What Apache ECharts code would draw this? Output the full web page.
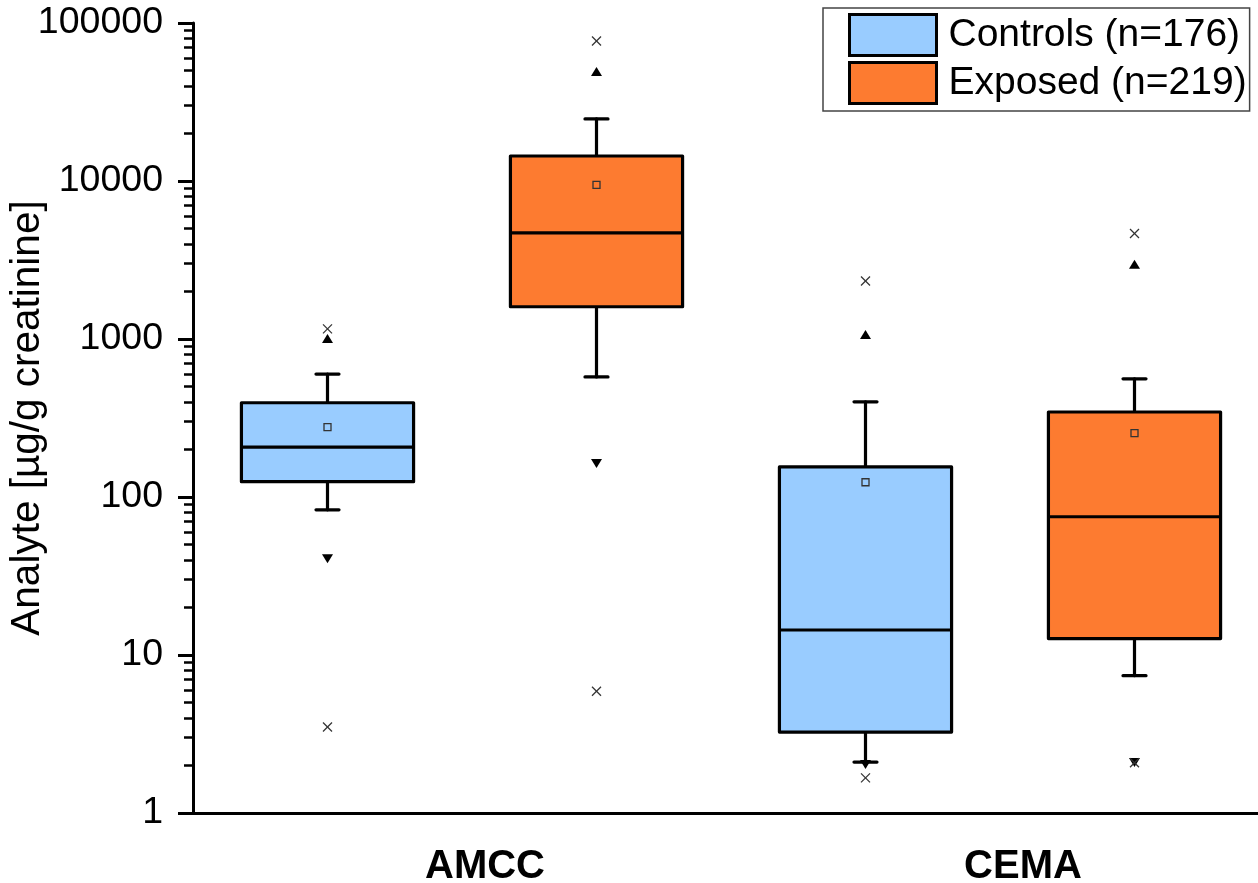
<!DOCTYPE html>
<html>
<head>
<meta charset="utf-8">
<title>Analyte by group</title>
<script src="https://cdn.jsdelivr.net/npm/echarts@6/dist/echarts.min.js"></script>
<style>
  html, body { margin: 0; padding: 0; background: #ffffff; }
  #chart { width: 1258px; height: 883px; }
</style>
</head>
<body>
<div id="chart"></div>
<script>
// ---- data ----
const categories = ['AMCC', 'CEMA'];
const groupNames = ['Controls (n=176)', 'Exposed (n=219)'];

// Box statistics per category: [lower whisker, Q1, median, Q3, upper whisker]
const controlsBox = [[83, 125, 207, 395, 600], [2.1, 3.25, 14.4, 155, 400]];
const exposedBox  = [[575, 1600, 4700, 14400, 24700], [7.4, 12.7, 75, 345, 560]];
// Means (hollow squares)
const controlsMean = [277, 124];
const exposedMean  = [9450, 254];
// 1st / 99th percentiles (triangles)
const controlsP1  = [41, 2.04];
const controlsP99 = [1000, 1060];
const exposedP1   = [164, 2.1];
const exposedP99  = [49000, 2950];
// Minimum / maximum (crosses)
const controlsMin = [3.5, 1.67];
const controlsMax = [1160, 2330];
const exposedMin  = [5.9, 2.08];
const exposedMax  = [76900, 4650];

const yTickLabels = ['1', '10', '100', '1000', '10000', '100000'];

// ---- styling ----
const FONT = '"Liberation Sans", Arial, Helvetica, sans-serif';
const COLORS = ['#99ccff', '#fd7b30'];
const GROUP_OFFSET = [-0.25, 0.25];   // position of each group inside a category
const BOX_HALF = 0.16;                 // half box width, x-axis units
const CAP_HALF = 11.5;                 // half whisker-cap width, px

function buildData(box, mean, p1, p99, mn, mx) {
  return categories.map(function (c, i) {
    return [i + 1].concat(box[i], [mean[i], p1[i], p99[i], mn[i], mx[i]]);
  });
}

function makeRenderer(offset, fill) {
  return function (params, api) {
    const x = api.value(0) + offset;
    const wLo = api.value(1), q1 = api.value(2), med = api.value(3),
          q3 = api.value(4), wHi = api.value(5), mean = api.value(6),
          p1 = api.value(7), p99 = api.value(8), mn = api.value(9), mx = api.value(10);
    const pt = function (v) { return api.coord([x, v]); };
    const cx = pt(med)[0];
    const left = api.coord([x - BOX_HALF, med])[0];
    const right = api.coord([x + BOX_HALF, med])[0];
    const yLo = pt(wLo)[1], yQ1 = pt(q1)[1], yMed = pt(med)[1], yQ3 = pt(q3)[1],
          yHi = pt(wHi)[1], yMean = pt(mean)[1], yP1 = pt(p1)[1], yP99 = pt(p99)[1],
          yMin = pt(mn)[1], yMax = pt(mx)[1];
    const black = { stroke: '#000', lineWidth: 3.2, lineCap: 'round' };
    const children = [
      { type: 'line', shape: { x1: cx, y1: yLo, x2: cx, y2: yHi }, style: black },
      { type: 'line', shape: { x1: cx - CAP_HALF, y1: yLo, x2: cx + CAP_HALF, y2: yLo }, style: black },
      { type: 'line', shape: { x1: cx - CAP_HALF, y1: yHi, x2: cx + CAP_HALF, y2: yHi }, style: black },
      { type: 'rect', shape: { x: left, y: yQ3, width: right - left, height: yQ1 - yQ3 },
        style: { fill: fill, stroke: '#000', lineWidth: 3.2, lineJoin: 'round' } },
      { type: 'line', shape: { x1: left, y1: yMed, x2: right, y2: yMed }, style: { stroke: '#000', lineWidth: 3.2 } },
      { type: 'rect', shape: { x: cx - 3.5, y: yMean - 3.5, width: 7, height: 7 },
        style: { fill: 'none', stroke: '#333', lineWidth: 1.3 } },
      // 99th percentile: up triangle; 1st percentile: down triangle
      { type: 'polygon', shape: { points: [[cx, yP99 - 5], [cx + 5.5, yP99 + 4], [cx - 5.5, yP99 + 4]] },
        style: { fill: '#000' } },
      { type: 'polygon', shape: { points: [[cx, yP1 + 5], [cx + 5.5, yP1 - 4], [cx - 5.5, yP1 - 4]] },
        style: { fill: '#000' } }
    ];
    [yMin, yMax].forEach(function (yy) {
      children.push({ type: 'line', shape: { x1: cx - 4.5, y1: yy - 4.5, x2: cx + 4.5, y2: yy + 4.5 },
        style: { stroke: '#333', lineWidth: 1.2 } });
      children.push({ type: 'line', shape: { x1: cx - 4.5, y1: yy + 4.5, x2: cx + 4.5, y2: yy - 4.5 },
        style: { stroke: '#333', lineWidth: 1.2 } });
    });
    return { type: 'group', children: children };
  };
}

const chart = echarts.init(document.getElementById('chart'), null, { renderer: 'canvas' });

chart.setOption({
  backgroundColor: '#ffffff',
  animation: false,
  textStyle: { fontFamily: FONT },
  grid: { left: 193, right: -11, top: 23, bottom: 70, containLabel: false, outerBoundsMode: 'none' },
  legend: {
    left: 823, top: 8,
    orient: 'vertical',
    selectedMode: false,
    icon: 'rect',
    itemWidth: 87, itemHeight: 41, itemGap: 4,
    padding: [5, 3, 6, 25],
    borderColor: '#444', borderWidth: 1.5,
    backgroundColor: '#ffffff',
    itemStyle: { borderColor: '#000', borderWidth: 3 },
    textStyle: { fontFamily: FONT, fontSize: 39, color: '#000', lineHeight: 41, padding: [0, 0, 0, 7] },
    data: groupNames.map(function (n, i) {
      return { name: n, itemStyle: { color: COLORS[i], borderColor: '#000', borderWidth: 3 } };
    })
  },
  xAxis: {
    type: 'value', min: 0.5, max: 2.5, interval: 0.5,
    axisLine: { show: true, onZero: false, lineStyle: { color: '#000', width: 3 } },
    axisTick: { show: false },
    splitLine: { show: false },
    axisLabel: {
      margin: 34, fontFamily: FONT, fontSize: 40, fontWeight: 'bold', color: '#000',
      padding: [0, 0, 0, 46],
      showMinLabel: true, showMaxLabel: true,
      formatter: function (v) { return Number.isInteger(v) ? categories[v - 1] : ''; }
    }
  },
  yAxis: {
    type: 'log', logBase: 10, min: 1, max: 100000,
    name: 'Analyte [µg/g creatinine]',
    nameLocation: 'middle', nameGap: 145,
    nameMoveOverlap: false,
    nameTextStyle: { fontFamily: FONT, fontSize: 40.5, color: '#000' },
    axisLine: { show: true, onZero: false, lineStyle: { color: '#000', width: 3 } },
    axisTick: { show: true, length: 15, lineStyle: { color: '#000', width: 3 } },
    minorTick: { show: true, splitNumber: 9, length: 9, lineStyle: { color: '#000', width: 2.5 } },
    splitLine: { show: false },
    minorSplitLine: { show: false },
    axisLabel: {
      margin: 30, fontFamily: FONT, fontSize: 37.5, color: '#000',
      formatter: function (v) { return yTickLabels[Math.round(Math.log10(v))]; }
    }
  },
  series: [
    {
      name: groupNames[0], type: 'custom',
      itemStyle: { color: COLORS[0], borderColor: '#000', borderWidth: 3 },
      renderItem: makeRenderer(GROUP_OFFSET[0], COLORS[0]),
      encode: { x: 0, y: [1, 5, 9, 10] },
      data: buildData(controlsBox, controlsMean, controlsP1, controlsP99, controlsMin, controlsMax)
    },
    {
      name: groupNames[1], type: 'custom',
      itemStyle: { color: COLORS[1], borderColor: '#000', borderWidth: 3 },
      renderItem: makeRenderer(GROUP_OFFSET[1], COLORS[1]),
      encode: { x: 0, y: [1, 5, 9, 10] },
      data: buildData(exposedBox, exposedMean, exposedP1, exposedP99, exposedMin, exposedMax)
    }
  ]
});
</script>
</body>
</html>
